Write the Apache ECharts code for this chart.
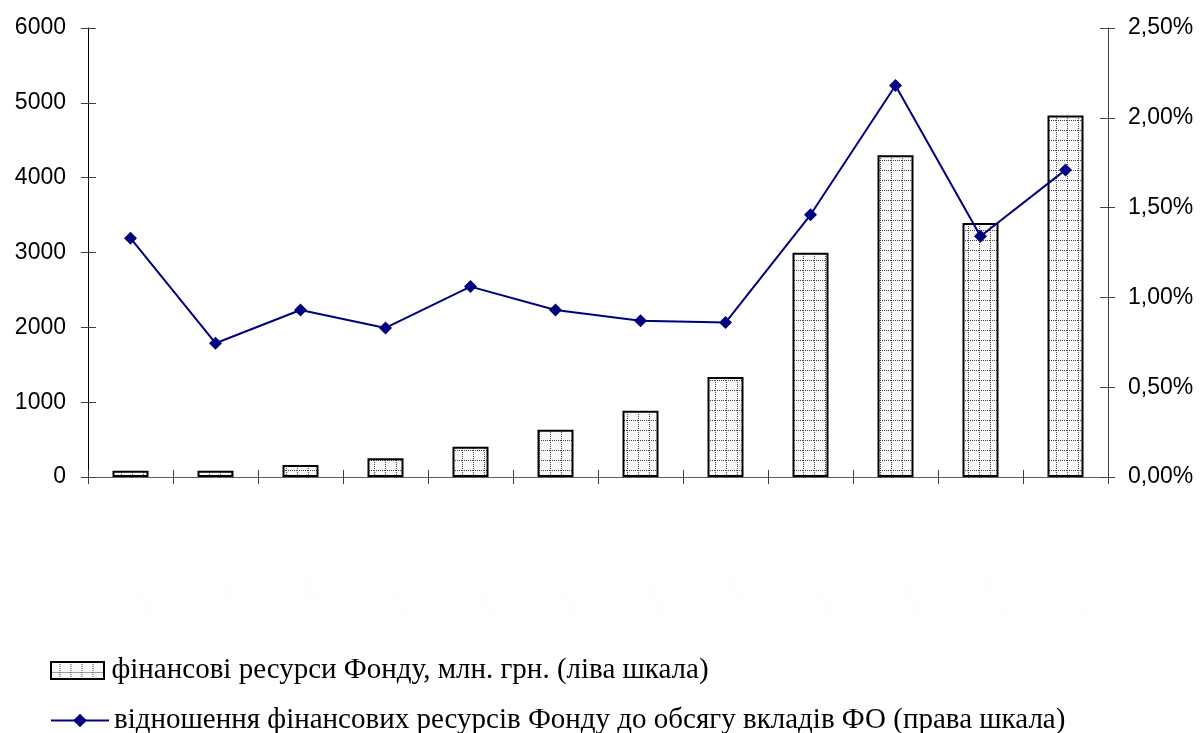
<!DOCTYPE html>
<html>
<head>
<meta charset="utf-8">
<script src="https://cdn.jsdelivr.net/npm/echarts@6/dist/echarts.min.js"></script>
<style>html,body{margin:0;padding:0;background:#fff}#c{width:1204px;height:733px}</style>
</head>
<body>
<div id="c"></div>
<script>
var categories = ['2000','2001','2002','2003','2004','2005','2006','2007','2008','2009','2010','2011'];
var fundResources = [85, 85, 160, 250, 405, 630, 885, 1335, 2995, 4300, 3395, 4830];
var ratioPercent = [1.33, 0.745, 0.93, 0.83, 1.06, 0.93, 0.87, 0.86, 1.46, 2.18, 1.34, 1.71];
var leftTicks = [0, 1000, 2000, 3000, 4000, 5000, 6000];
var rightTicks = ['0,00%','0,50%','1,00%','1,50%','2,00%','2,50%'];
var seriesNames = ['фінансові ресурси Фонду, млн. грн. (ліва шкала)', 'відношення фінансових ресурсів Фонду до обсягу вкладів ФО (права шкала)'];

function makePattern() {
  var c = document.createElement('canvas');
  c.width = 11; c.height = 10;
  var g = c.getContext('2d');
  g.fillStyle = '#f8f8f8';
  g.fillRect(0, 0, 11, 10);
  g.fillStyle = '#444';
  for (var x = 0; x < 11; x += 2) g.fillRect(x, 0, 1, 1);
  for (var y = 0; y < 10; y += 2) g.fillRect(0, y, 1, 1);
  return c;
}
var pattern = { image: makePattern(), repeat: 'repeat' };

var chart = echarts.init(document.getElementById('c'), null, { renderer: 'canvas' });
var axisFont = { fontFamily: 'Liberation Sans', fontSize: 23, color: '#000' };
var legendText = { fontFamily: 'Liberation Serif', fontSize: 29, color: '#000' };
chart.setOption({
  animation: false,
  backgroundColor: '#fff',
  grid: { left: 88, right: 96, top: 28, bottom: 256, containLabel: false },
  legend: [{
    orient: 'vertical', left: 50, top: 656, padding: 0, itemWidth: 58, itemHeight: 17,
    textStyle: legendText,
    data: [{ name: seriesNames[0], icon: 'path://M0,0 L53,0 L53,17 L0,17 Z' }]
  }, {
    orient: 'vertical', left: 50, top: 706, padding: 0, itemWidth: 58, itemHeight: 17,
    textStyle: legendText,
    data: [seriesNames[1]]
  }],
  xAxis: [{
    type: 'category', data: categories, boundaryGap: true,
    axisLine: { lineStyle: { color: '#606060', width: 1 } },
    axisTick: { show: true, length: 7, lineStyle: { color: '#404040' } },
    axisLabel: { color: '#fdfdfd', fontFamily: 'Liberation Serif', fontSize: 22, rotate: -60, margin: 100 },
    splitLine: { show: false }
  }, {
    type: 'category', data: categories, position: 'bottom', boundaryGap: true,
    axisLine: { show: false },
    axisTick: { show: true, inside: true, length: 7, lineStyle: { color: '#404040' } },
    axisLabel: { show: false }, splitLine: { show: false }
  }],
  yAxis: [{
    type: 'value', min: 0, max: 6000, interval: 1000, position: 'left',
    axisLine: { show: true, lineStyle: { color: '#000' } },
    axisTick: { show: true, length: 7, lineStyle: { color: '#404040' } },
    axisLabel: Object.assign({ margin: 22, formatter: function (v) { return String(v); } }, axisFont),
    splitLine: { show: false }
  }, {
    type: 'value', min: 0, max: 2.5, interval: 0.5, position: 'right',
    axisLine: { show: true, lineStyle: { color: '#404040' } },
    axisTick: { show: true, length: 7, lineStyle: { color: '#404040' } },
    axisLabel: Object.assign({ margin: 20, formatter: function (v) { return rightTicks[Math.round(v / 0.5)]; } }, axisFont),
    splitLine: { show: false }
  }, {
    type: 'value', min: 0, max: 6000, interval: 1000, position: 'left',
    axisLine: { show: false },
    axisTick: { show: true, inside: true, length: 8, lineStyle: { color: '#404040' } },
    axisLabel: { show: false }, splitLine: { show: false }
  }, {
    type: 'value', min: 0, max: 2.5, interval: 0.5, position: 'right',
    axisLine: { show: false },
    axisTick: { show: true, inside: true, length: 8, lineStyle: { color: '#404040' } },
    axisLabel: { show: false }, splitLine: { show: false }
  }],
  series: [{
    name: seriesNames[0], type: 'bar', xAxisIndex: 0, yAxisIndex: 0,
    data: fundResources, barWidth: 36,
    itemStyle: { color: pattern, borderColor: '#000', borderWidth: 2 }
  }, {
    name: seriesNames[1], type: 'line', xAxisIndex: 0, yAxisIndex: 1,
    data: ratioPercent, symbol: 'diamond', symbolSize: 13,
    lineStyle: { color: '#000080', width: 2 },
    itemStyle: { color: '#000080' }
  }]
});
</script>
</body>
</html>
